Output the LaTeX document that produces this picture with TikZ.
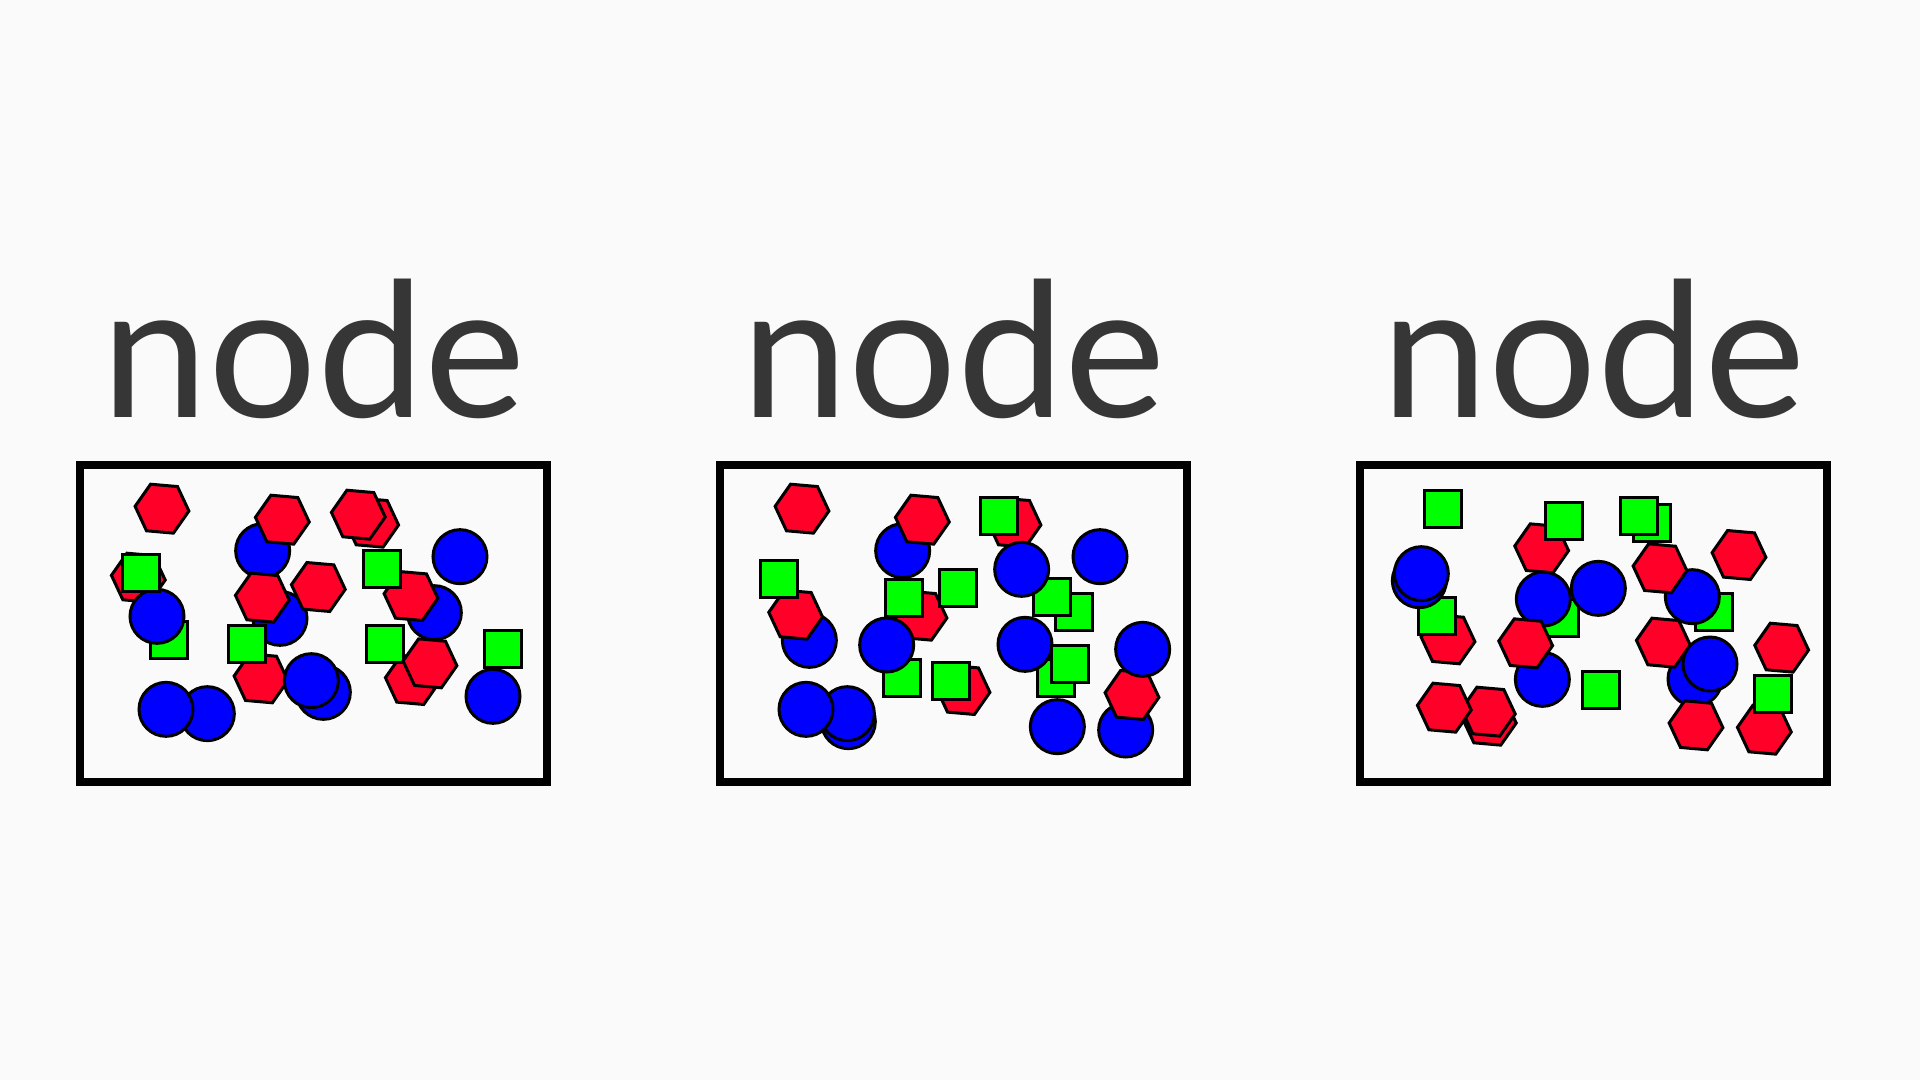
\documentclass[tikz,border=0pt]{standalone}
\usepackage{fontspec}
\setmainfont{Lato}
\usetikzlibrary{shapes.geometric}
\definecolor{bg}{RGB}{250,250,250}
\definecolor{txt}{RGB}{54,54,54}
\definecolor{hexred}{RGB}{255,0,40}
\definecolor{cblue}{RGB}{0,0,255}
\definecolor{sgreen}{RGB}{0,255,0}
\tikzset{
 shp/.style={draw=black, line width=3pt, inner sep=0pt, outer sep=0pt},
 circ/.style={shp, circle, fill=cblue, minimum size=54pt},
 hexa/.style={shp, regular polygon, regular polygon sides=6, fill=hexred, minimum size=54pt, rotate=-5},
 sq/.style={shp, rectangle, fill=sgreen, minimum size=37pt},
 frame/.style={draw=black, line width=7.5pt},
 lbl/.style={font=\fontsize{188}{188}\selectfont, text=txt, anchor=base, inner sep=0pt, xscale=1.02},
}
\newcommand\shp[4]{\node[#1] (#2) at (#3,#4) {};}
\begin{document}
\begin{tikzpicture}[x=1pt,y=-1pt]
\useasboundingbox (0,0) rectangle (1920,1080);
\fill[bg] (0,0) rectangle (1920,1080);
% labels
\node[lbl] (t1) at (314,417) {node};
\node[lbl] (t2) at (954,417) {node};
\node[lbl] (t3) at (1594,417) {node};
% frames
\draw[frame] (80,465) rectangle (547,782);
\draw[frame] (720,465) rectangle (1187,782);
\draw[frame] (1360,465) rectangle (1827,782);
% box 1
\begin{scope}[xshift=70pt,yshift=-455pt,x=0.33333pt,y=-0.33333pt]
\shp{circ}{a1}{578}{287}
\shp{hexa}{a2}{637}{194}
\shp{hexa}{a3}{276}{161}
\shp{hexa}{a4}{905}{203}
\shp{hexa}{a5}{865}{179}
\shp{circ}{a6}{1170}{305}
\shp{hexa}{a7}{205}{368}
\shp{sq}{a8}{297}{554}
\shp{circ}{a9}{261}{484}
\shp{sq}{a10}{212}{355}
\shp{circ}{a11}{630}{490}
\shp{hexa}{a12}{577}{428}
\shp{hexa}{a13}{745}{396}
\shp{hexa}{a14}{573}{670}
\shp{sq}{a15}{531}{567}
\shp{circ}{a16}{760}{712}
\shp{circ}{a17}{724}{677}
\shp{circ}{a18}{412}{776}
\shp{circ}{a19}{288}{763}
\shp{circ}{a20}{1093}{473}
\shp{hexa}{a21}{1023}{423}
\shp{sq}{a22}{935}{342}
\shp{hexa}{a23}{1027}{675}
\shp{sq}{a24}{946}{568}
\shp{hexa}{a25}{1080}{625}
\shp{circ}{a26}{1269}{724}
\shp{sq}{a27}{1298}{582}
\end{scope}
% box 2
\begin{scope}[xshift=710pt,yshift=-455pt,x=0.33333pt,y=-0.33333pt]
\shp{circ}{b1}{578}{287}
\shp{hexa}{b2}{637}{194}
\shp{hexa}{b3}{276}{161}
\shp{hexa}{b4}{912}{203}
\shp{sq}{b5}{868}{184}
\shp{circ}{b6}{1170}{305}
\shp{sq}{b7}{1092}{472}
\shp{sq}{b8}{1027}{425}
\shp{circ}{b9}{935}{343}
\shp{circ}{b10}{298}{556}
\shp{hexa}{b11}{257}{479}
\shp{sq}{b12}{208}{373}
\shp{hexa}{b13}{630}{482}
\shp{sq}{b14}{582}{430}
\shp{sq}{b15}{745}{400}
\shp{sq}{b16}{577}{670}
\shp{circ}{b17}{530}{570}
\shp{hexa}{b18}{759}{705}
\shp{sq}{b19}{722}{678}
\shp{circ}{b20}{415}{800}
\shp{circ}{b21}{412}{776}
\shp{circ}{b22}{288}{763}
\shp{sq}{b23}{1037}{670}
\shp{circ}{b24}{945}{568}
\shp{sq}{b25}{1080}{627}
\shp{circ}{b26}{1042}{815}
\shp{circ}{b27}{1247}{825}
\shp{hexa}{b28}{1266}{720}
\shp{circ}{b29}{1298}{583}
\end{scope}
% box 3
\begin{scope}[xshift=1350pt,yshift=-455pt,x=0.33333pt,y=-0.33333pt]
\shp{hexa}{c1}{575}{280}
\shp{sq}{c2}{642}{198}
\shp{sq}{c3}{278}{162}
\shp{sq}{c4}{905}{205}
\shp{sq}{c5}{868}{184}
\shp{hexa}{c6}{1167}{300}
\shp{sq}{c7}{1092}{472}
\shp{circ}{c8}{1027}{425}
\shp{hexa}{c9}{930}{340}
\shp{hexa}{c10}{294}{553}
\shp{sq}{c11}{262}{482}
\shp{circ}{c12}{208}{377}
\shp{circ}{c13}{214}{356}
\shp{sq}{c14}{629}{490}
\shp{circ}{c15}{580}{432}
\shp{circ}{c16}{745}{400}
\shp{circ}{c17}{577}{673}
\shp{hexa}{c18}{527}{565}
\shp{sq}{c19}{752}{705}
\shp{hexa}{c20}{418}{797}
\shp{hexa}{c21}{415}{770}
\shp{hexa}{c22}{283}{758}
\shp{circ}{c23}{1035}{672}
\shp{hexa}{c24}{940}{563}
\shp{circ}{c25}{1080}{627}
\shp{hexa}{c26}{1038}{811}
\shp{hexa}{c27}{1243}{824}
\shp{sq}{c28}{1268}{718}
\shp{hexa}{c29}{1295}{578}
\end{scope}
\end{tikzpicture}
\end{document}
